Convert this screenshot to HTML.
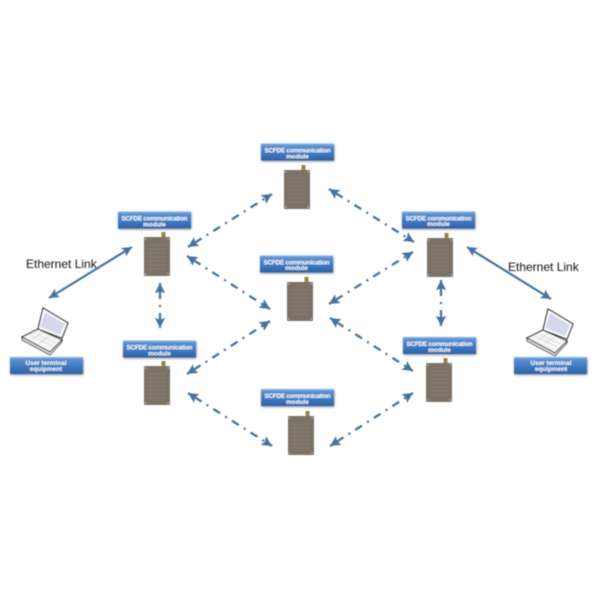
<!DOCTYPE html>
<html><head><meta charset="utf-8"><style>
html,body{margin:0;padding:0;background:#fff}
svg{display:block}
.l{font:bold 6.400px "Liberation Sans",sans-serif;fill:#fff;text-anchor:middle}
.e{font:12px "Liberation Sans",sans-serif;fill:#111}
.d{stroke:#44739f;stroke-width:2.300;fill:none;stroke-dasharray:8 6 2 6;stroke-dashoffset:14}
.s{stroke:#44739f;stroke-width:2.200;fill:none}
</style></head><body>
<svg width="600" height="600" viewBox="0 0 600 600" xmlns="http://www.w3.org/2000/svg">
<defs>
<linearGradient id="g" x1="0" y1="0" x2="0" y2="1"><stop offset="0" stop-color="#8db8e6"/><stop offset=".15" stop-color="#5a90d2"/><stop offset=".6" stop-color="#3f78c0"/><stop offset="1" stop-color="#2f62a6"/></linearGradient>
<filter id="b" x="-5%" y="-5%" width="110%" height="110%"><feGaussianBlur stdDeviation=".5"/></filter>
<filter id="sh" x="-10%" y="-20%" width="120%" height="160%"><feDropShadow dx=".5" dy="1" stdDeviation="1" flood-color="#444" flood-opacity=".6"/></filter>
<marker id="a" viewBox="0 0 10 10" refX="10" refY="5" markerWidth="4.500" markerHeight="4.500" orient="auto-start-reverse" markerUnits="strokeWidth"><path d="M0 0L10 5L0 10L2 5Z" fill="#44739f"/></marker>
<g id="dev"><rect x="17.500" y="-5" width="4" height="6" fill="#9a8444"/><rect x="0" y="0" width="26" height="39" rx="1" fill="#7c7266"/><path d="M4 8h18M4 12h18M4 16h18M4 20h18M4 24h18M4 28h18M4 32h18" stroke="#887d70" stroke-width="1"/><path d="M1 2h1.500M23.500 2h1.500M1 37h1.500M23.500 37h1.500" stroke="#bbb" stroke-width="1"/></g>
<g id="lab"><rect width="73" height="17" fill="url(#g)" filter="url(#sh)"/></g>
<g id="lap">
<path d="M21 0L46 15L40 30L16 21Z" fill="#fff" stroke="#222" stroke-width="1.200"/>
<path d="M23 4L43 16L38 27L18 19Z" fill="#d5d8ec"/>
<path d="M0 29L16 21L40 32L28 44Z" fill="#f6f6f6" stroke="#222" stroke-width="1.200"/>
<path d="M0 29L0 32L28 47L40 34L40 32L28 44Z" fill="#ddd" stroke="#222" stroke-width=".8"/>
<path d="M8 27L30 38M12 25L34 35M11 31L21 24M17 35L28 28" stroke="#ccc" stroke-width=".6" fill="none"/>
</g>
</defs>
<rect width="600" height="600" fill="#fff"/>
<g filter="url(#b)">
<path class="d" d="M188 247L272 194" marker-start="url(#a)" marker-end="url(#a)"/>
<path class="d" d="M329 189L414 242" marker-start="url(#a)" marker-end="url(#a)"/>
<path class="d" d="M187 256L270 309" marker-start="url(#a)" marker-end="url(#a)"/>
<path class="d" d="M329 304L413 252" marker-start="url(#a)" marker-end="url(#a)"/>
<path class="d" d="M187 374L270 321" marker-start="url(#a)" marker-end="url(#a)"/>
<path class="d" d="M330 318L413 371" marker-start="url(#a)" marker-end="url(#a)"/>
<path class="d" d="M188 393L272 446" marker-start="url(#a)" marker-end="url(#a)"/>
<path class="d" d="M330 446L413 393" marker-start="url(#a)" marker-end="url(#a)"/>
<path class="d" d="M160 283L160 328" marker-start="url(#a)" marker-end="url(#a)"/>
<path class="d" d="M441 280L441 326" marker-start="url(#a)" marker-end="url(#a)"/>
<path class="s" d="M132 247L49 298" marker-start="url(#a)" marker-end="url(#a)"/>
<path class="s" d="M467 247L551 299" marker-start="url(#a)" marker-end="url(#a)"/>
<use href="#lab" x="261" y="143.500"/><use href="#lab" x="118" y="211.500"/><use href="#lab" x="123" y="340.500"/>
<use href="#lab" x="260" y="255.500"/><use href="#lab" x="402" y="211.500"/><use href="#lab" x="403" y="337"/>
<use href="#lab" x="261" y="389"/><use href="#lab" x="10" y="357"/><use href="#lab" x="514" y="357"/>
<use href="#dev" x="284" y="170"/><use href="#dev" x="144" y="237"/><use href="#dev" x="144" y="366"/>
<use href="#dev" x="287" y="282"/><use href="#dev" x="427" y="238"/><use href="#dev" x="426" y="363"/>
<use href="#dev" x="288" y="416"/>
<use href="#lap" x="22" y="308"/><use href="#lap" x="527" y="309"/>
<text class="e" x="26" y="268">Ethernet Link</text>
<text class="e" x="508" y="271">Ethernet Link</text>
<text class="l" x="297.500" y="152.500" textLength="66">SCFDE communication</text><text class="l" x="297.500" y="158.500">module</text>
<text class="l" x="154.500" y="220.500" textLength="66">SCFDE communication</text><text class="l" x="154.500" y="226.500">module</text>
<text class="l" x="159.500" y="349.500" textLength="66">SCFDE communication</text><text class="l" x="159.500" y="355.500">module</text>
<text class="l" x="296.500" y="264.500" textLength="66">SCFDE communication</text><text class="l" x="296.500" y="270">module</text>
<text class="l" x="438.500" y="220.500" textLength="66">SCFDE communication</text><text class="l" x="438.500" y="226">module</text>
<text class="l" x="439.500" y="346" textLength="66">SCFDE communication</text><text class="l" x="439.500" y="352">module</text>
<text class="l" x="297.500" y="398" textLength="66">SCFDE communication</text><text class="l" x="297.500" y="404">module</text>
<text class="l" x="46" y="365" textLength="41">User terminal</text><text class="l" x="46" y="371">equipment</text>
<text class="l" x="551" y="365" textLength="41">User terminal</text><text class="l" x="551" y="371">equipment</text>
</g>
</svg>
</body></html>
